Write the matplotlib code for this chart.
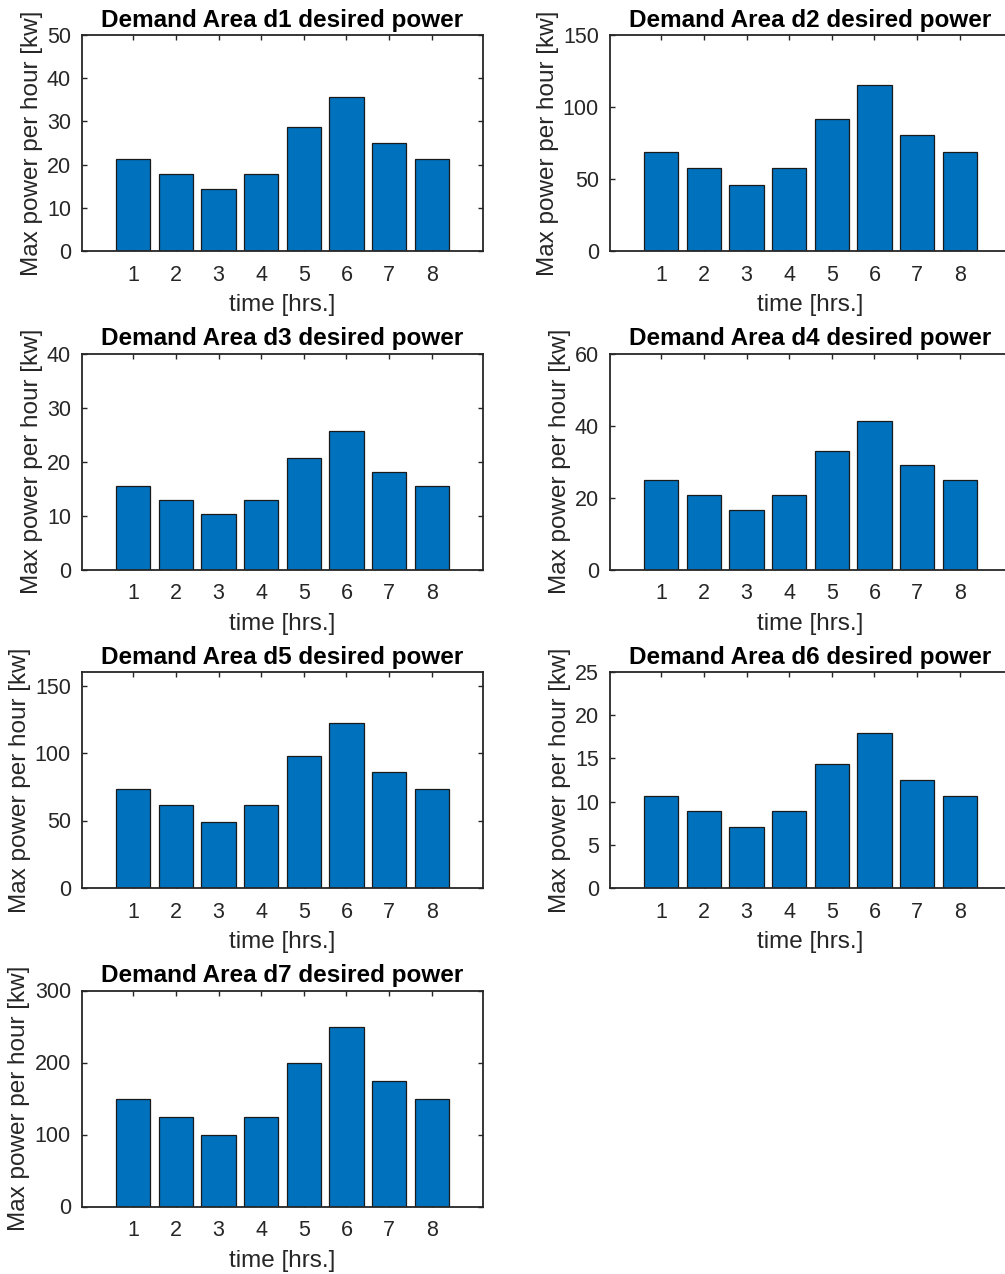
import matplotlib
matplotlib.use("Agg")
import matplotlib.pyplot as plt

hours = [1, 2, 3, 4, 5, 6, 7, 8]
areas = ["d1", "d2", "d3", "d4", "d5", "d6", "d7"]
d1 = [21.4, 17.9, 14.3, 17.9, 28.6, 35.7, 25.0, 21.4]
d2 = [69.0, 57.5, 46.0, 57.5, 92.0, 115.0, 80.5, 69.0]
d3 = [15.4, 12.9, 10.3, 12.9, 20.6, 25.7, 18.0, 15.4]
d4 = [24.8, 20.6, 16.5, 20.6, 33.0, 41.2, 28.9, 24.8]
d5 = [73.5, 61.3, 49.0, 61.3, 98.0, 122.5, 85.8, 73.5]
d6 = [10.7, 8.9, 7.1, 8.9, 14.3, 17.9, 12.5, 10.7]
d7 = [150, 125, 100, 125, 200, 250, 175, 150]
series = [d1, d2, d3, d4, d5, d6, d7]
ylims = [50, 150, 40, 60, 160, 25, 300]
yticks = [[0, 10, 20, 30, 40, 50], [0, 50, 100, 150], [0, 10, 20, 30, 40],
          [0, 20, 40, 60], [0, 50, 100, 150], [0, 5, 10, 15, 20, 25],
          [0, 100, 200, 300]]

plt.rcParams['font.family'] = ['Liberation Sans', 'DejaVu Sans']
W, H = 1005, 1274
fig = plt.figure(figsize=(W / 100, H / 100), dpi=100)

col_x = [82, 610]
aw = 401
row_top = [35, 353.5, 672, 990.5]
ah = 216
txt = '#262626'

for i, (name, vals) in enumerate(zip(areas, series)):
    r, c = divmod(i, 2)
    left = col_x[c] / W
    bottom = 1 - (row_top[r] + ah) / H
    ax = fig.add_axes([left, bottom, aw / W, ah / H])
    ax.bar(hours, vals, width=0.8, color='#0072BD', edgecolor='#1a1a1a', linewidth=0.9, zorder=2)
    ax.set_xlim(-0.2, 9.2)
    ax.set_ylim(0, ylims[i])
    ax.set_xticks(hours)
    ax.set_yticks(yticks[i])
    ax.tick_params(direction='in', top=True, right=True, length=3.6, width=1,
                   colors=txt, labelsize=15.5, pad=10)
    ax.tick_params(axis='y', pad=8)
    for s in ax.spines.values():
        s.set_color(txt)
        s.set_linewidth(1.3)
    ax.set_title(f"Demand Area {name} desired power", fontsize=17.5, fontweight='bold', pad=6)
    ax.set_xlabel("time [hrs.]", fontsize=17.5, color=txt, labelpad=6)
    ax.set_ylabel("Max power per hour [kw]", fontsize=17.5, color=txt, labelpad=3)

fig.savefig("out.png", dpi=100, facecolor='white')
